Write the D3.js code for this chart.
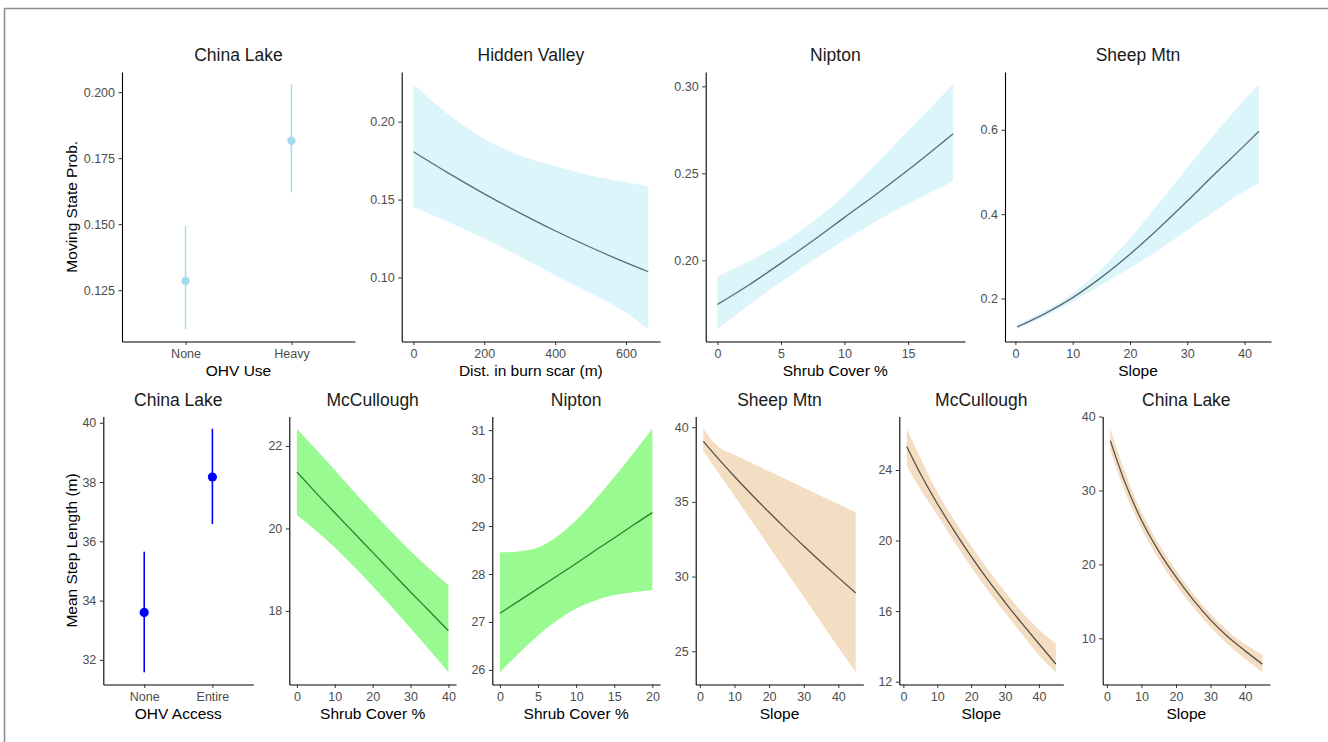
<!DOCTYPE html>
<html><head><meta charset="utf-8">
<script src="https://cdn.jsdelivr.net/npm/d3@7/dist/d3.min.js"></script>
<style>
body{margin:0;background:#fff}
svg{display:block}
text{font-family:"Liberation Sans",Arial,Helvetica,sans-serif}
</style>
</head><body>
<svg id="chart" width="1328" height="742"></svg>
<script>
// ---------------- DATA ----------------
// Top row: moving state probability
const clUseCats = ["None", "Heavy"];
const clUseFit  = [0.1285, 0.1816];
const clUseLo   = [0.1102, 0.1620];
const clUseHi   = [0.1494, 0.2030];

const hvX   = [0, 100, 200, 300, 400, 500, 600, 663];
const hvFit = [0.1807, 0.1668, 0.1537, 0.1415, 0.1300, 0.1194, 0.1095, 0.1037];
const hvHi  = [0.2240, 0.2045, 0.1890, 0.1785, 0.1715, 0.1655, 0.1612, 0.1586];
const hvLo  = [0.1453, 0.1355, 0.1250, 0.1135, 0.1015, 0.0900, 0.0775, 0.0668];

const npTopX   = [0, 2.5, 5, 7.5, 10, 12.5, 15, 18.55];
const npTopFit = [0.1747, 0.1860, 0.1984, 0.2113, 0.2247, 0.2380, 0.2519, 0.2728];
const npTopHi  = [0.1907, 0.1995, 0.2095, 0.2220, 0.2375, 0.2555, 0.2745, 0.3012];
const npTopLo  = [0.1604, 0.1745, 0.1875, 0.2000, 0.2115, 0.2225, 0.2325, 0.2455];

const smTopX   = [0.3, 5, 10, 15, 20, 25, 30, 35, 40, 42.5];
const smTopFit = [0.1324, 0.163, 0.202, 0.250, 0.305, 0.366, 0.431, 0.498, 0.563, 0.5967];
const smTopHi  = [0.138, 0.170, 0.212, 0.270, 0.343, 0.425, 0.510, 0.593, 0.672, 0.708];
const smTopLo  = [0.127, 0.156, 0.192, 0.232, 0.272, 0.315, 0.362, 0.409, 0.455, 0.4724];

// Bottom row: mean step length
const clAccCats = ["None", "Entire"];
const clAccFit  = [33.60, 38.17];
const clAccLo   = [31.58, 36.58];
const clAccHi   = [35.65, 39.80];

const mcShrubX   = [0, 5, 10, 15, 20, 25, 30, 35, 40];
const mcShrubFit = [21.37, 20.87, 20.38, 19.90, 19.42, 18.94, 18.46, 17.99, 17.52];
const mcShrubHi  = [22.42, 21.92, 21.42, 20.90, 20.40, 19.92, 19.45, 19.02, 18.62];
const mcShrubLo  = [20.32, 19.95, 19.54, 19.08, 18.60, 18.10, 17.58, 17.05, 16.51];

const npBotX   = [0, 2.5, 5, 7.5, 10, 12.5, 15, 17.5, 20];
const npBotFit = [27.18, 27.44, 27.70, 27.96, 28.22, 28.49, 28.75, 29.02, 29.28];
const npBotHi  = [28.45, 28.47, 28.55, 28.78, 29.12, 29.55, 30.02, 30.52, 31.03];
const npBotLo  = [25.95, 26.35, 26.72, 27.03, 27.28, 27.45, 27.56, 27.62, 27.66];

const slopeX = [1, 5, 10, 15, 20, 25, 30, 35, 40, 45];
const smBotFit = [39.06, 37.98, 36.70, 35.48, 34.30, 33.16, 32.05, 30.98, 29.93, 28.90];
const smBotHi  = [39.90, 38.75, 38.15, 37.60, 37.05, 36.50, 35.95, 35.40, 34.85, 34.29];
const smBotLo  = [38.40, 37.05, 35.40, 33.70, 32.00, 30.30, 28.65, 26.95, 25.25, 23.59];

const mcSlopeFit = [25.33, 23.80, 22.10, 20.55, 19.10, 17.75, 16.50, 15.30, 14.15, 13.00];
const mcSlopeHi  = [26.34, 24.70, 22.75, 21.15, 19.70, 18.35, 17.10, 15.95, 14.95, 14.15];
const mcSlopeLo  = [24.25, 22.90, 21.45, 19.95, 18.50, 17.15, 15.90, 14.70, 13.50, 12.53];

const clSlopeFit = [36.75, 31.40, 26.00, 21.80, 18.30, 15.20, 12.50, 10.20, 8.30, 6.50];
const clSlopeHi  = [38.36, 32.80, 27.10, 22.80, 19.20, 16.00, 13.30, 11.00, 9.20, 7.80];
const clSlopeLo  = [35.40, 30.10, 24.90, 20.70, 17.20, 14.20, 11.50, 9.20, 7.20, 5.40];

// Tick labels
const ticksP1Y = [0.125, 0.150, 0.175, 0.200];
const ticksHvX = [0, 200, 400, 600];
const ticksHvY = [0.10, 0.15, 0.20];
const ticksNpTopX = [0, 5, 10, 15];
const ticksNpTopY = [0.20, 0.25, 0.30];
const ticksSlopeX = [0, 10, 20, 30, 40];
const ticksSmTopY = [0.2, 0.4, 0.6];
const ticksClAccY = [32, 34, 36, 38, 40];
const ticksMcShrubY = [18, 20, 22];
const ticksNpBotX = [0, 5, 10, 15, 20];
const ticksNpBotY = [26, 27, 28, 29, 30, 31];
const ticksSmBotY = [25, 30, 35, 40];
const ticksMcSlopeY = [12, 16, 20, 24];
const ticksClSlopeY = [10, 20, 30, 40];

// ---------------- STYLE / LAYOUT ----------------
const BLUE_FILL = "#DCF5FB", BLUE_LINE = "#5B6B70", BLUE_PT = "#A6DBEF";
const GREEN_FILL = "#9AFA92", GREEN_LINE = "#23862A";
const TAN_FILL = "#F4DEC3", TAN_LINE = "#5A5145";
const TOP = {top: 72, bottom: 341.5, titleY: 61, xTitleY: 375.5};
const BOT = {top: 416.5, bottom: 684.5, titleY: 406, xTitleY: 718.5};

const svg = d3.select("#chart");
svg.append("rect").attr("x", 4.5).attr("y", 8.5).attr("width", 1340).attr("height", 800)
  .attr("fill", "none").attr("stroke", "#8c8c8c").attr("stroke-width", 1.5);

function expand(lo, hi) { const d = (hi - lo) * 0.05; return [lo - d, hi + d]; }

function drawAxes(g, x, y, row, xTickVals, yTickVals, yFmt, cfg) {
  const xa = g.append("g").attr("transform", `translate(0,${row.bottom})`)
    .call((xTickVals ? d3.axisBottom(x).tickValues(xTickVals) : d3.axisBottom(x))
      .tickSize(3.5).tickPadding(4).tickSizeOuter(0));
  const ya = g.append("g").attr("transform", `translate(${cfg.left},0)`)
    .call(d3.axisLeft(y).tickValues(yTickVals).tickFormat(yFmt)
      .tickSize(3.5).tickPadding(3.5).tickSizeOuter(0));
  [xa, ya].forEach(a => {
    a.select(".domain").attr("stroke", "#000").attr("stroke-width", 1.1);
    a.selectAll(".tick line").attr("stroke", "#333").attr("stroke-width", 1);
    a.selectAll(".tick text").attr("fill", "#4d4d4d").style("font-size", "12.5px")
      .style("font-family", '"Liberation Sans",Arial,sans-serif');
  });
  const cx = (cfg.left + cfg.right) / 2;
  g.append("text").attr("x", cx).attr("y", row.titleY).attr("text-anchor", "middle")
    .style("font-size", "17.5px").attr("fill", "#1a1a1a").text(cfg.title);
  g.append("text").attr("x", cx).attr("y", row.xTitleY).attr("text-anchor", "middle")
    .style("font-size", "15.5px").attr("fill", "#000").text(cfg.xTitle);
  if (cfg.yTitle) {
    const cy = (row.top + row.bottom) / 2;
    g.append("text").attr("transform", `translate(77,${cy}) rotate(-90)`)
      .attr("text-anchor", "middle").style("font-size", "15.5px").attr("fill", "#000")
      .text(cfg.yTitle);
  }
}

function ribbonPanel(cfg, row, xs, fit, lo, hi, xTickVals, yTickVals, yFmt, fill, stroke) {
  const g = svg.append("g");
  const x = d3.scaleLinear().domain(expand(d3.min(xs), d3.max(xs))).range([cfg.left, cfg.right]);
  const y = d3.scaleLinear().domain(expand(d3.min(lo), d3.max(hi))).range([row.bottom, row.top]);
  const pts = xs.map((v, i) => ({x: v, f: fit[i], l: lo[i], h: hi[i]}));
  g.append("path").datum(pts).attr("fill", fill)
    .attr("d", d3.area().curve(d3.curveMonotoneX).x(d => x(d.x)).y0(d => y(d.l)).y1(d => y(d.h)));
  g.append("path").datum(pts).attr("fill", "none").attr("stroke", stroke).attr("stroke-width", 1.3)
    .attr("d", d3.line().curve(d3.curveMonotoneX).x(d => x(d.x)).y(d => y(d.f)));
  drawAxes(g, x, y, row, xTickVals, yTickVals, yFmt, cfg);
}

function pointPanel(cfg, row, cats, fit, lo, hi, yTickVals, yFmt, color, r, sw) {
  const g = svg.append("g");
  const x = d3.scalePoint().domain(cats).range([cfg.left, cfg.right]).padding(0.6);
  const y = d3.scaleLinear().domain(expand(d3.min(lo), d3.max(hi))).range([row.bottom, row.top]);
  cats.forEach((c, i) => {
    g.append("line").attr("x1", x(c)).attr("x2", x(c)).attr("y1", y(lo[i])).attr("y2", y(hi[i]))
      .attr("stroke", color).attr("stroke-width", sw);
    g.append("circle").attr("cx", x(c)).attr("cy", y(fit[i])).attr("r", r).attr("fill", color);
  });
  drawAxes(g, x, y, row, null, yTickVals, yFmt, cfg);
}

const f3 = d3.format(".3f"), f2 = d3.format(".2f"), f1 = d3.format(".1f"), f0 = d3.format("d");

// Top row
pointPanel({left: 122, right: 355, title: "China Lake", xTitle: "OHV Use", yTitle: "Moving State Prob."},
  TOP, clUseCats, clUseFit, clUseLo, clUseHi, ticksP1Y, f3, BLUE_PT, 4.2, 1.5);
ribbonPanel({left: 401.7, right: 660, title: "Hidden Valley", xTitle: "Dist. in burn scar (m)"},
  TOP, hvX, hvFit, hvLo, hvHi, ticksHvX, ticksHvY, f2, BLUE_FILL, BLUE_LINE);
ribbonPanel({left: 705.7, right: 965, title: "Nipton", xTitle: "Shrub Cover %"},
  TOP, npTopX, npTopFit, npTopLo, npTopHi, ticksNpTopX, ticksNpTopY, f2, BLUE_FILL, BLUE_LINE);
ribbonPanel({left: 1005, right: 1271, title: "Sheep Mtn", xTitle: "Slope"},
  TOP, smTopX, smTopFit, smTopLo, smTopHi, ticksSlopeX, ticksSmTopY, f1, BLUE_FILL, BLUE_LINE);

// Bottom row
pointPanel({left: 103.3, right: 253.3, title: "China Lake", xTitle: "OHV Access", yTitle: "Mean Step Length (m)"},
  BOT, clAccCats, clAccFit, clAccLo, clAccHi, ticksClAccY, f0, "#0000FF", 4.6, 1.6);
ribbonPanel({left: 289.3, right: 456, title: "McCullough", xTitle: "Shrub Cover %"},
  BOT, mcShrubX, mcShrubFit, mcShrubLo, mcShrubHi, ticksSlopeX, ticksMcShrubY, f0, GREEN_FILL, GREEN_LINE);
ribbonPanel({left: 492.3, right: 660, title: "Nipton", xTitle: "Shrub Cover %"},
  BOT, npBotX, npBotFit, npBotLo, npBotHi, ticksNpBotX, ticksNpBotY, f0, GREEN_FILL, GREEN_LINE);
ribbonPanel({left: 695.7, right: 863.3, title: "Sheep Mtn", xTitle: "Slope"},
  BOT, slopeX, smBotFit, smBotLo, smBotHi, ticksSlopeX, ticksSmBotY, f0, TAN_FILL, TAN_LINE);
ribbonPanel({left: 899.3, right: 1063.3, title: "McCullough", xTitle: "Slope"},
  BOT, slopeX, mcSlopeFit, mcSlopeLo, mcSlopeHi, ticksSlopeX, ticksMcSlopeY, f0, TAN_FILL, TAN_LINE);
ribbonPanel({left: 1102.7, right: 1270, title: "China Lake", xTitle: "Slope"},
  BOT, slopeX, clSlopeFit, clSlopeLo, clSlopeHi, ticksSlopeX, ticksClSlopeY, f0, TAN_FILL, TAN_LINE);
</script>
</body></html>
